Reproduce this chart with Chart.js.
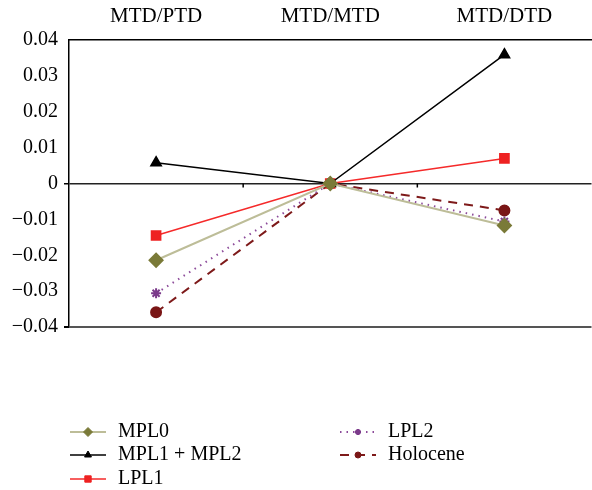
<!DOCTYPE html>
<html>
<head>
<meta charset="utf-8">
<script src="https://cdn.jsdelivr.net/npm/chart.js@4.4.1/dist/chart.umd.min.js"></script>
<style>
  html, body { margin: 0; padding: 0; background: #fff; overflow: hidden; }
  #wrap { position: relative; width: 600px; height: 490px; }
</style>
</head>
<body>
<div id="wrap"><canvas id="myChart"></canvas></div>
<script>
const categories = ['MTD/PTD', 'MTD/MTD', 'MTD/DTD']
const yTicks = [-0.04, -0.03, -0.02, -0.01, 0, 0.01, 0.02, 0.03, 0.04]

const mpl0 = [-0.0214, 0, -0.0117]
const mpl1mpl2 = [0.0058, 0, 0.0359]
const lpl1 = [-0.0145, 0, 0.0070]
const lpl2 = [-0.0306, 0, -0.0106]
const holocene = [-0.0359, 0, -0.0075]

const FONT = 'Liberation Serif'
const minus = (v) => {
    const r = Math.round(v * 100) / 100
    if (r === 0) return '0'
    return (r < 0 ? '\u2212' : '') + Math.abs(r).toFixed(2)
}

const ctx = document.getElementById('myChart')

const data = {
    labels: categories,
    datasets: [{
        label: 'MPL0',
        data: mpl0,
        borderColor: '#bdbd98',
        borderWidth: 2,
        pointStyle: 'rectRot',
        pointRadius: 6.5,
        pointBackgroundColor: '#7a7a38',
        pointBorderColor: '#7a7a38',
        tension: 0
    },{
        label: 'MPL1 + MPL2',
        data: mpl1mpl2,
        borderColor: '#000000',
        borderWidth: 1.5,
        pointStyle: 'triangle',
        pointRadius: 6,
        pointBackgroundColor: '#000000',
        pointBorderColor: '#000000',
        tension: 0
    },{
        label: 'LPL1',
        data: lpl1,
        borderColor: '#f52a2a',
        borderWidth: 1.5,
        pointStyle: 'rect',
        pointRadius: 6.5,
        pointBackgroundColor: '#ee2222',
        pointBorderColor: '#ee2222',
        tension: 0
    },{
        label: 'LPL2',
        data: lpl2,
        borderColor: '#8c4a9a',
        borderWidth: 2,
        borderDash: [1.5, 5],
        pointStyle: 'star',
        pointRadius: 5,
        pointBorderWidth: 2,
        pointBackgroundColor: '#7b3a8a',
        pointBorderColor: '#7b3a8a',
        tension: 0
    },{
        label: 'Holocene',
        data: holocene,
        borderColor: '#7e1a1a',
        borderWidth: 2,
        borderDash: [9, 7],
        pointStyle: 'circle',
        pointRadius: 5,
        pointBackgroundColor: '#7a1616',
        pointBorderColor: '#7a1616',
        tension: 0
    }]
}

// small ticks on the zero line between categories
const zeroTicks = {
    id: 'zeroTicks',
    afterDatasetsDraw(chart) {
        const x = chart.scales.x, y = chart.scales.y
        const y0 = y.getPixelForValue(0)
        const c = chart.ctx
        c.save()
        c.strokeStyle = '#000'
        c.lineWidth = 1.5
        for (let i = 0; i < categories.length - 1; i++) {
            const px = (x.getPixelForValue(i) + x.getPixelForValue(i + 1)) / 2
            c.beginPath()
            c.moveTo(px, y0)
            c.lineTo(px, y0 + 4)
            c.stroke()
        }
        c.restore()
    }
}

// two column legend, column by column
const colLegend = {
    id: 'colLegend',
    afterDraw(chart) {
        const c = chart.ctx
        const cols = [[0, 1, 2], [3, 4]]
        const colX = [70, 340]
        const rowY = [432, 455, 479]
        c.save()
        c.font = '20px ' + FONT
        c.textBaseline = 'middle'
        cols.forEach((col, ci) => {
            col.forEach((di, ri) => {
                const ds = chart.data.datasets[di]
                const x = colX[ci], y = rowY[ri]
                c.save()
                c.strokeStyle = ds.borderColor
                c.lineWidth = ds.borderWidth
                c.setLineDash(ds.borderDash ? ds.borderDash : [])
                c.beginPath()
                c.moveTo(x, y)
                c.lineTo(x + 36, y)
                c.stroke()
                c.restore()
                c.save()
                c.fillStyle = ds.pointBackgroundColor
                c.strokeStyle = ds.pointBorderColor
                c.lineWidth = ds.pointBorderWidth || 1
                Chart.helpers.drawPoint(c, {
                    pointStyle: ds.pointStyle,
                    radius: Math.max(3, ds.pointRadius - 2),
                    rotation: 0,
                    borderWidth: ds.pointBorderWidth || 1
                }, x + 18, y)
                c.restore()
                c.fillStyle = '#000'
                c.fillText(ds.label, x + 48, y)
            })
        })
        c.restore()
    }
}

const config = {
    type: 'line',
    data: data,
    options: {
        maintainAspectRatio: false,
        responsive: true,
        animation: false,
        layout: { padding: { top: 0, left: 0, right: 4, bottom: 163 } },
        plugins: {
            legend: { display: false },
            tooltip: { enabled: false }
        },
        scales: {
            x: {
                position: 'top',
                offset: true,
                grid: { display: false, drawTicks: false },
                border: { display: true, color: '#000', width: 1.5 },
                ticks: {
                    color: '#000',
                    padding: 11,
                    font: { family: FONT, size: 21 }
                },
                afterFit: (s) => { s.height = 40 }
            },
            y: {
                min: -0.04,
                max: 0.04,
                afterBuildTicks: (s) => { s.ticks = yTicks.map(v => ({ value: v })) },
                grid: {
                    drawOnChartArea: true,
                    drawTicks: true,
                    tickLength: 5,
                    tickColor: '#000',
                    lineWidth: (c) => {
                        const v = Math.round(c.tick.value * 100)
                        return v === 0 ? 1.5 : (v === -4 ? 2 : 0)
                    },
                    color: (c) => {
                        const v = Math.round(c.tick.value * 100)
                        if (v === 0) return '#222'
                        if (v === -4) return '#555'
                        return 'rgba(0,0,0,0)'
                    }
                },
                border: { display: true, color: '#000', width: 1.5 },
                ticks: {
                    color: '#000',
                    padding: 6,
                    font: { family: FONT, size: 20 },
                    callback: (v) => minus(v)
                },
                afterFit: (s) => { s.width = 69 }
            }
        }
    },
    plugins: [zeroTicks, colLegend]
}
const chart = new Chart(ctx, config)
</script>
</body>
</html>
